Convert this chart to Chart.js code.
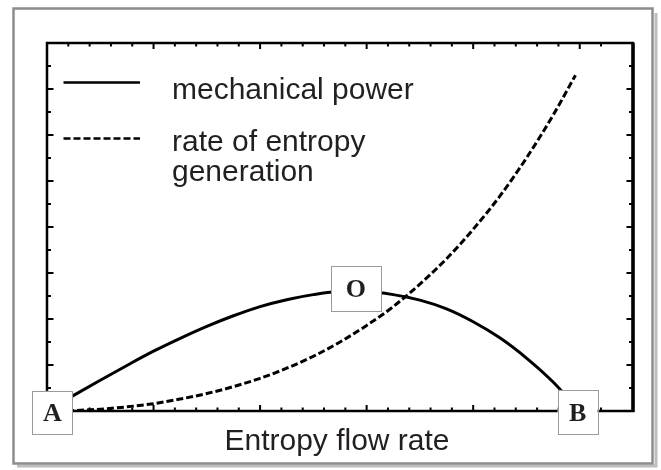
<!DOCTYPE html>
<html>
<head>
<meta charset="utf-8">
<script src="https://cdn.jsdelivr.net/npm/chart.js@4.4.1/dist/chart.umd.min.js"></script>
<style>
    body { margin: 0; background: #fff; }
    #wrap { position: relative; width: 661px; height: 470px; }
</style>
</head>
<body>
<div id="wrap"><canvas id="power-chart"></canvas></div>
<script>
const powerChart = document.getElementById('power-chart');

// entropy flow rate (x) sample points
const flowRate = [0, 0.25, 0.5, 0.75, 1, 1.25, 1.5, 1.75, 2, 2.25, 2.5, 2.75, 3, 3.25, 3.5, 3.75, 4, 4.25, 4.5, 4.75, 5];
const mechanicalPower = [0, 0.34, 0.67, 0.99, 1.30, 1.58, 1.84, 2.07, 2.27, 2.42, 2.53, 2.59, 2.59, 2.53, 2.41, 2.22, 1.94, 1.59, 1.15, 0.63, 0];

const entropyFlowRate = [0, 0.25, 0.5, 0.75, 1, 1.25, 1.5, 1.75, 2, 2.25, 2.5, 2.75, 3, 3.25, 3.5, 3.75, 4, 4.25, 4.5, 4.75, 4.96];
const entropyGeneration = [0, 0.01, 0.04, 0.09, 0.16, 0.26, 0.38, 0.53, 0.71, 0.93, 1.19, 1.50, 1.86, 2.27, 2.76, 3.31, 3.95, 4.67, 5.50, 6.43, 7.30];

// point labels (data coordinates)
const pointNames = ['A', 'O', 'B'];
const pointX = [0.05, 2.9, 4.98];
const pointY = [-0.03, 2.66, -0.02];

const legendText = [['mechanical power'], ['rate of entropy', 'generation']];

const textColor = '#231f20';

function toPoints(xs, ys) {
    return xs.map((x, i) => ({ x: x, y: ys[i] }));
}

const boxSize = { A: [40, 43], O: [50, 45], B: [40, 44] };

const paperPlugin = {
    id: 'paper',
    beforeDraw(chart) {
        const ctx = chart.ctx;
        ctx.save();
        ctx.fillStyle = '#fff';
        ctx.fillRect(0, 0, chart.width, chart.height);
        // shadow of the frame
        ctx.strokeStyle = '#bdbdbd';
        ctx.lineWidth = 3;
        ctx.beginPath();
        ctx.moveTo(17, 466);
        ctx.lineTo(656, 466);
        ctx.lineTo(656, 13);
        ctx.stroke();
        ctx.strokeStyle = '#8c8c8c';
        ctx.lineWidth = 2.5;
        ctx.strokeRect(13.5, 8.5, 639, 455);
        ctx.restore();
    },
    afterDraw(chart) {
        const ctx = chart.ctx;
        const area = chart.chartArea;
        const xs = chart.scales.x;
        const ys = chart.scales.y;
        ctx.save();

        // axis frame
        ctx.strokeStyle = '#000';
        ctx.lineWidth = 2.5;
        ctx.strokeRect(area.left, area.top, area.right - area.left, area.bottom - area.top);
        ctx.lineWidth = 3.5;
        ctx.beginPath();
        ctx.moveTo(area.right, area.top);
        ctx.lineTo(area.right, area.bottom + 1);
        ctx.stroke();

        // inward ticks on all four sides
        ctx.lineWidth = 2;
        const isMajor = v => Math.abs(v - Math.round(v)) < 1e-6;
        ctx.beginPath();
        xs.ticks.forEach(t => {
            const px = xs.getPixelForValue(t.value);
            if (px <= area.left + 1 || px >= area.right - 1) return;
            const len = isMajor(t.value) ? 6 : 3.5;
            ctx.moveTo(px, area.bottom);
            ctx.lineTo(px, area.bottom - len);
            ctx.moveTo(px, area.top);
            ctx.lineTo(px, area.top + len);
        });
        ys.ticks.forEach(t => {
            const py = ys.getPixelForValue(t.value);
            if (py <= area.top + 1 || py >= area.bottom - 1) return;
            const len = isMajor(t.value) ? 6.5 : 4;
            ctx.moveTo(area.left, py);
            ctx.lineTo(area.left + len, py);
            ctx.moveTo(area.right, py);
            ctx.lineTo(area.right - len, py);
        });
        ctx.stroke();

        // legend
        chart.data.datasets.forEach((ds, i) => {
            const ly = area.top + 39.5 + i * 56;
            ctx.strokeStyle = '#000';
            ctx.lineWidth = 2.5;
            ctx.setLineDash(ds.borderDash || []);
            ctx.beginPath();
            ctx.moveTo(area.left + 16.5, ly);
            ctx.lineTo(area.left + 93, ly);
            ctx.stroke();
            ctx.setLineDash([]);
            ctx.fillStyle = textColor;
            ctx.font = '30px "Liberation Sans", Arial, sans-serif';
            ctx.textAlign = 'left';
            ctx.textBaseline = 'alphabetic';
            legendText[i].forEach((line, j) => {
                ctx.fillText(line, area.left + 125, ly + 16 + j * 30 - (i ? 4 : 0));
            });
        });

        // axis title
        ctx.fillStyle = textColor;
        ctx.font = '30px "Liberation Sans", Arial, sans-serif';
        ctx.textAlign = 'center';
        ctx.fillText('Entropy flow rate', (area.left + area.right) / 2 - 3, 449.5);

        // boxed point labels
        pointNames.forEach((name, i) => {
            const cx = xs.getPixelForValue(pointX[i]);
            const cy = ys.getPixelForValue(pointY[i]);
            const [w, h] = boxSize[name];
            ctx.fillStyle = '#fff';
            ctx.fillRect(cx - w / 2, cy - h / 2, w, h);
            ctx.strokeStyle = '#9a9a9a';
            ctx.lineWidth = 1;
            ctx.strokeRect(Math.round(cx - w / 2) + 0.5, Math.round(cy - h / 2) + 0.5, w, h);
            ctx.fillStyle = textColor;
            ctx.font = 'bold 26px "Liberation Serif", "Times New Roman", serif';
            ctx.textAlign = 'center';
            ctx.textBaseline = 'middle';
            ctx.fillText(name, cx, cy + 2);
        });

        ctx.restore();
    }
};

new Chart(powerChart, {
    type: 'line',
    data: {
        datasets: [{
            label: 'mechanical power',
            data: toPoints(flowRate, mechanicalPower),
            borderColor: '#000',
            borderWidth: 3,
            pointRadius: 0,
            tension: 0.4,
            cubicInterpolationMode: 'monotone'
        }, {
            label: 'rate of entropy generation',
            data: toPoints(entropyFlowRate, entropyGeneration),
            borderColor: '#000',
            borderWidth: 3,
            borderDash: [7, 3],
            pointRadius: 0,
            tension: 0.4,
            cubicInterpolationMode: 'monotone'
        }]
    },
    options: {
        responsive: true,
        maintainAspectRatio: false,
        animation: false,
        layout: {
            padding: { left: 47, right: 28, top: 43, bottom: 59 }
        },
        plugins: {
            legend: { display: false },
            tooltip: { enabled: false }
        },
        scales: {
            x: {
                type: 'linear',
                display: false,
                min: 0,
                max: 5.5,
                ticks: { stepSize: 0.2 }
            },
            y: {
                display: false,
                min: 0,
                max: 8,
                ticks: { stepSize: 0.5 }
            }
        }
    },
    plugins: [paperPlugin]
});
</script>
</body>
</html>
